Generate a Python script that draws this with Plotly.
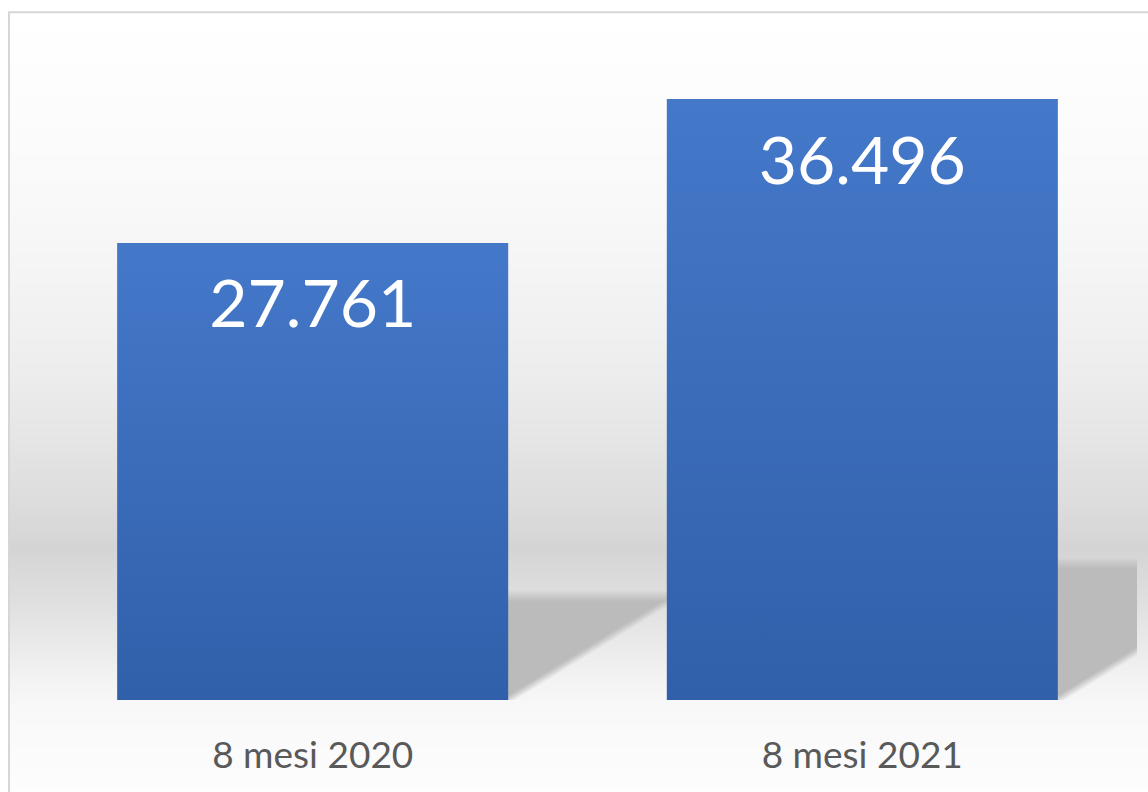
import base64
import math
import struct
import zlib

import plotly.graph_objects as go

# ---- data -------------------------------------------------------------
categories = ["8 mesi 2020", "8 mesi 2021"]
values = [27761, 36496]

# ---- page / plot geometry ---------------------------------------------
W, H = 1148, 792
M_L, M_R, M_T, M_B = 38, 11, 13, 92
PLOT_W = W - M_L - M_R
PLOT_H = H - M_T - M_B
X_RANGE = (-0.5, 1.5)
Y_TOP = 41725
BAR_W = 0.711

PX_PER_X = PLOT_W / (X_RANGE[1] - X_RANGE[0])
PX_PER_Y = PLOT_H / Y_TOP

BAR_TOP = "#4478c9"
BAR_BOTTOM = "#3160aa"
SHADOW = "rgb(187,187,187)"
LABEL_GREY = "#595959"
FONT = "Lato"


def paper_x(px):
    return (px - M_L) / PLOT_W


def paper_y(py):
    return (H - M_B - py) / PLOT_H


# ---- soft grey backdrop (vertical gradient, rendered as a 1px-wide PNG) --
grad_stops = [
    (13, 255), (80, 253), (200, 249), (320, 241), (380, 236), (440, 229),
    (500, 221), (535, 215), (548, 212), (560, 215), (600, 223), (640, 233),
    (680, 243), (713, 249), (780, 252), (792, 253),
]


def grey_at(py):
    for (y0, g0), (y1, g1) in zip(grad_stops, grad_stops[1:]):
        if y0 <= py <= y1:
            t = (py - y0) / (y1 - y0)
            return round(g0 + (g1 - g0) * t)
    return grad_stops[-1][1]


def png_gradient(top, bottom):
    rows = b"".join(b"\x00" + bytes([grey_at(y)] * 3) for y in range(top, bottom))
    def chunk(tag, data):
        return (struct.pack(">I", len(data)) + tag + data
                + struct.pack(">I", zlib.crc32(tag + data) & 0xFFFFFFFF))
    ihdr = struct.pack(">IIBBBBB", 1, bottom - top, 8, 2, 0, 0, 0)
    png = (b"\x89PNG\r\n\x1a\n" + chunk(b"IHDR", ihdr)
           + chunk(b"IDAT", zlib.compress(rows, 9)) + chunk(b"IEND", b""))
    return "data:image/png;base64," + base64.b64encode(png).decode()


BG_LEFT, BG_TOP = 9, 13
backdrop = dict(
    source=png_gradient(BG_TOP, H),
    xref="paper", yref="paper",
    x=paper_x(BG_LEFT), y=paper_y(BG_TOP),
    sizex=(W - BG_LEFT) / PLOT_W, sizey=(H - BG_TOP) / PLOT_H,
    xanchor="left", yanchor="top",
    sizing="stretch", layer="below",
)

# ---- chart-area frame (left and top edges) -----------------------------
frame_col = "#d6d6d6"
shapes = [
    dict(type="line", xref="paper", yref="paper", layer="above",
         x0=paper_x(9), x1=paper_x(9), y0=paper_y(12.3), y1=paper_y(H + 10),
         line=dict(color=frame_col, width=2)),
    dict(type="line", xref="paper", yref="paper", layer="above",
         x0=paper_x(8), x1=paper_x(W + 10), y0=paper_y(12.3), y1=paper_y(12.3),
         line=dict(color=frame_col, width=2)),
]

# ---- cast shadows behind each bar (soft edges via stacked layers) ------
SHADOW_RATIO = 0.227   # shadow height relative to bar height
SHADOW_SKEW = 1.62     # horizontal run per unit of shadow height
N_LAYERS = 12
BLUR_TOP = 12.0
BLUR_DIAG = 8.0

for i, v in enumerate(values):
    xr = i + BAR_W / 2
    s = SHADOW_RATIO * v * PX_PER_Y
    dx = SHADOW_SKEW * s
    L = math.hypot(dx, s)
    for k in range(N_LAYERS):
        frac = (k + 0.5) / N_LAYERS
        d_top = BLUR_TOP / 2 - BLUR_TOP * frac
        d_diag = BLUR_DIAG / 2 - BLUR_DIAG * frac
        y_lo, y_hi = -30.0, s + d_top

        def x_at(y):
            return (d_diag * L + y * dx) / s

        pts = [(-20, y_lo), (x_at(y_lo), y_lo), (x_at(y_hi), y_hi), (-20, y_hi)]
        path = "M " + " L ".join(
            f"{xr + px / PX_PER_X:.5f},{py / PX_PER_Y:.2f}" for px, py in pts) + " Z"
        alpha = 1.0 / (N_LAYERS - k)
        shapes.append(dict(
            type="path", path=path, xref="x", yref="y", layer="below",
            fillcolor=SHADOW, opacity=alpha, line=dict(width=0),
        ))

# ---- figure ------------------------------------------------------------
fig = go.Figure()

xs = list(range(len(categories)))
fig.add_trace(go.Bar(
    x=xs, y=values, width=BAR_W,
    marker=dict(color="#3a6bb9", line=dict(width=0)),
    hoverinfo="skip", showlegend=False,
))

# vertical colour gradient over each bar
for i, v in enumerate(values):
    x0, x1 = i - BAR_W / 2, i + BAR_W / 2
    fig.add_trace(go.Scatter(
        x=[x0, x1, x1, x0, x0], y=[0, 0, v, v, 0],
        mode="lines", line=dict(width=0), fill="toself",
        fillgradient=dict(type="vertical", start=0, stop=v,
                          colorscale=[[0, BAR_BOTTOM], [1, BAR_TOP]]),
        hoverinfo="skip", showlegend=False,
    ))

# value labels near the top of each bar
LABEL_DROP_PX = 68
fig.add_trace(go.Scatter(
    x=xs, y=[v - LABEL_DROP_PX / PX_PER_Y for v in values],
    mode="text",
    text=[f"{v:,}".replace(",", ".") for v in values],
    textposition="middle center",
    textfont=dict(family=FONT, size=66, color="white"),
    hoverinfo="skip", showlegend=False,
))

fig.update_layout(
    width=W, height=H,
    margin=dict(l=M_L, r=M_R, t=M_T, b=M_B, pad=0),
    paper_bgcolor="white", plot_bgcolor="rgba(0,0,0,0)",
    showlegend=False,
    images=[backdrop],
    shapes=shapes,
    xaxis=dict(
        range=list(X_RANGE), tickvals=xs, ticktext=categories,
        showgrid=False, zeroline=False, showline=False, ticks="",
        tickfont=dict(family=FONT, size=37, color=LABEL_GREY),
        ticklabelstandoff=30,
        fixedrange=True,
    ),
    yaxis=dict(range=[0, Y_TOP], visible=False, fixedrange=True),
)

fig.write_html("out.html", config=dict(displayModeBar=False))
